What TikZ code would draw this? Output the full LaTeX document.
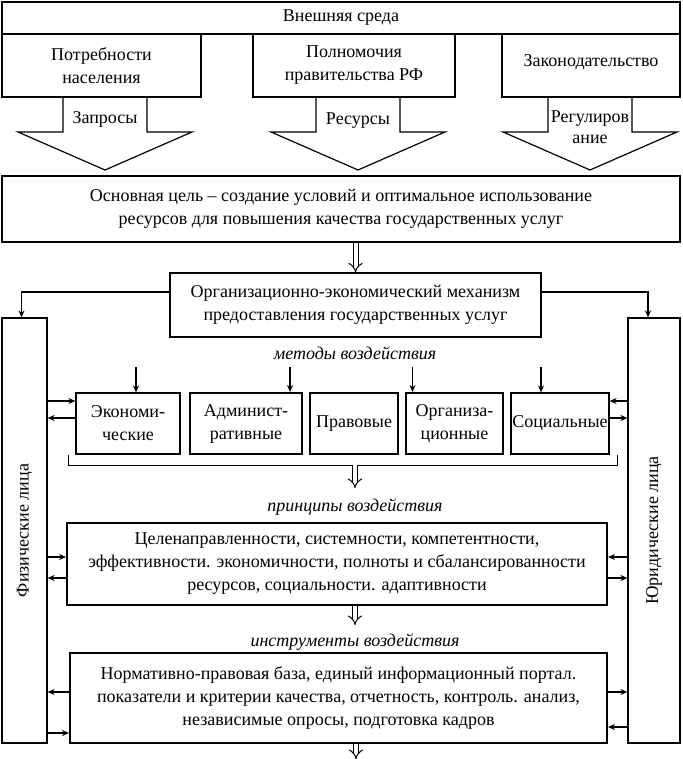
\documentclass[tikz,border=0pt]{standalone}
\usepackage{fontspec}
\setmainfont{Liberation Serif}
\usetikzlibrary{arrows.meta}
\tikzset{
  box/.style={draw, line width=1.2pt, inner sep=0pt, align=center, font=\fontsize{18}{23}\selectfont},
  thickbox/.style={box, line width=2pt},
  lbl/.style={inner sep=0pt, align=center, font=\fontsize{18}{21}\selectfont},
  itlbl/.style={inner sep=0pt, font=\fontsize{18}{20}\selectfont\itshape},
  arr/.style={->, line width=1.2pt, >={Stealth[length=7pt,width=6pt]}},
  hollow/.style={double, double distance=4pt, line width=1pt, -{Implies}},
}
\begin{document}
\begin{tikzpicture}[x=1pt, y=-1pt]
\useasboundingbox (0,0) rectangle (682,759);
% outer world
\node[box, minimum width=678pt, minimum height=32pt] (env) at (341,18) {Внешняя среда};
\node[box, minimum width=199pt, minimum height=63pt] (needs) at (101.5,65.5) {Потребности\\населения};
\node[box, minimum width=202pt, minimum height=63pt] (powers) at (354,65.5) {Полномочия\\правительства РФ};
\node[box, minimum width=178pt, minimum height=63pt, text depth=9pt] (law) at (591,65.5) {Законодательство};

% block arrows
\foreach \x in {105,358,590}
  \draw[line width=1.2pt] (\x-42,97) -- (\x-42,132) -- (\x-87,132) -- (\x,170)
    -- (\x+87,132) -- (\x+42,132) -- (\x+42,97);
\node[lbl] (req) at (105,119) {Запросы};
\node[lbl] (res) at (358,121) {Ресурсы};
\node[lbl] (reg) at (590,127) {Регулиров\\ание};

% goal
\node[box, minimum width=678pt, minimum height=66pt] (goal) at (341,209) {Основная цель -- создание условий и оптимальное использование\\ресурсов для повышения качества государственных услуг};
\node[box, minimum width=371pt, minimum height=64pt] (mech) at (355.5,305) {Организационно-экономический механизм\\предоставления государственных услуг};
\draw[hollow] (goal.south -| mech.north) -- (mech.north);

% subjects
\node[box, minimum width=45pt, minimum height=425pt] (phys) at (24.5,530.5) {};
\node[lbl, rotate=90] at (phys.center) {Физические лица};
\node[box, minimum width=52pt, minimum height=425pt] (jur) at (654,530.5) {};
\node[lbl, rotate=90] at (jur.center) {Юридические лица};
\draw[arr] ([yshift=13pt]mech.west) -| ([xshift=-3pt]phys.north);
\draw[arr] ([yshift=13pt]mech.east) -| ([xshift=-6pt]jur.north);

% methods
\node[itlbl] (methods) at (355,353) {методы воздействия};
\node[box, minimum width=104pt, minimum height=61pt] (econ) at (128,423.5) {Экономи-\\ческие};
\node[thickbox, minimum width=112pt, minimum height=61pt] (admin) at (246,423.5) {Админист-\\ративные};
\node[box, minimum width=88pt, minimum height=61pt] (legal) at (354,423.5) {Правовые};
\node[thickbox, minimum width=97pt, minimum height=61pt] (org) at (454.5,423.5) {Организа-\\ционные};
\node[box, minimum width=98pt, minimum height=61pt] (soc) at (560,423.5) {Социальные};
\draw[arr] ([xshift=8pt,yshift=25pt]econ.north) -- ([xshift=8pt]econ.north);
\draw[arr] ([xshift=44pt,yshift=25pt]admin.north) -- ([xshift=44pt]admin.north);
\draw[arr] ([xshift=-42pt,yshift=25pt]org.north) -- ([xshift=-42pt]org.north);
\draw[arr] ([xshift=-19pt,yshift=25pt]soc.north) -- ([xshift=-19pt]soc.north);
\draw[arr] (phys.east |- 0,401) -- (econ.west |- 0,401);
\draw[arr] (econ.west |- 0,418) -- (phys.east |- 0,418);
\draw[arr] (jur.west |- 0,401) -- (soc.east |- 0,401);
\draw[arr] (soc.east |- 0,418) -- (jur.west |- 0,418);
\draw[line width=0.8pt] (68,455) -- (68,465) coordinate (brl) -- (617,465) -- (617,455);
\coordinate (brm) at (355,465);

% principles
\node[itlbl] (princlbl) at (355,507) {принципы воздействия};
\node[thickbox, minimum width=540pt, minimum height=82pt] (princ) at (337,564) {Целенаправленности, системности, компетентности,\\эффективности. экономичности, полноты и сбалансированности\\ресурсов, социальности. адаптивности};
\draw[hollow] (brm) -- (355,488);
\draw[arr] (phys.east |- 0,557) -- (princ.west |- 0,557);
\draw[arr] (princ.west |- 0,578) -- (phys.east |- 0,578);
\draw[arr] (jur.west |- 0,557) -- (princ.east |- 0,557);
\draw[arr] (princ.east |- 0,578) -- (jur.west |- 0,578);

% instruments
\node[itlbl] (instrlbl) at (355,642) {инструменты воздействия};
\node[thickbox, minimum width=537pt, minimum height=90pt] (instr) at (338.5,698) {Нормативно-правовая база, единый информационный портал.\\показатели и критерии качества, отчетность, контроль. анализ,\\независимые опросы, подготовка кадров};
\draw[hollow] (princ.south -| brm) -- (355,625);
\draw[arr] (instr.west |- 0,692) -- (phys.east |- 0,692);
\draw[arr] (phys.east |- 0,733) -- (instr.west |- 0,733);
\draw[arr] (instr.east |- 0,692) -- (jur.west |- 0,692);
\draw[arr] (jur.west |- 0,727) -- (instr.east |- 0,727);
\coordinate (out) at (356,759);
\draw[hollow] (instr.south -| out) -- (out);
\end{tikzpicture}
\end{document}
